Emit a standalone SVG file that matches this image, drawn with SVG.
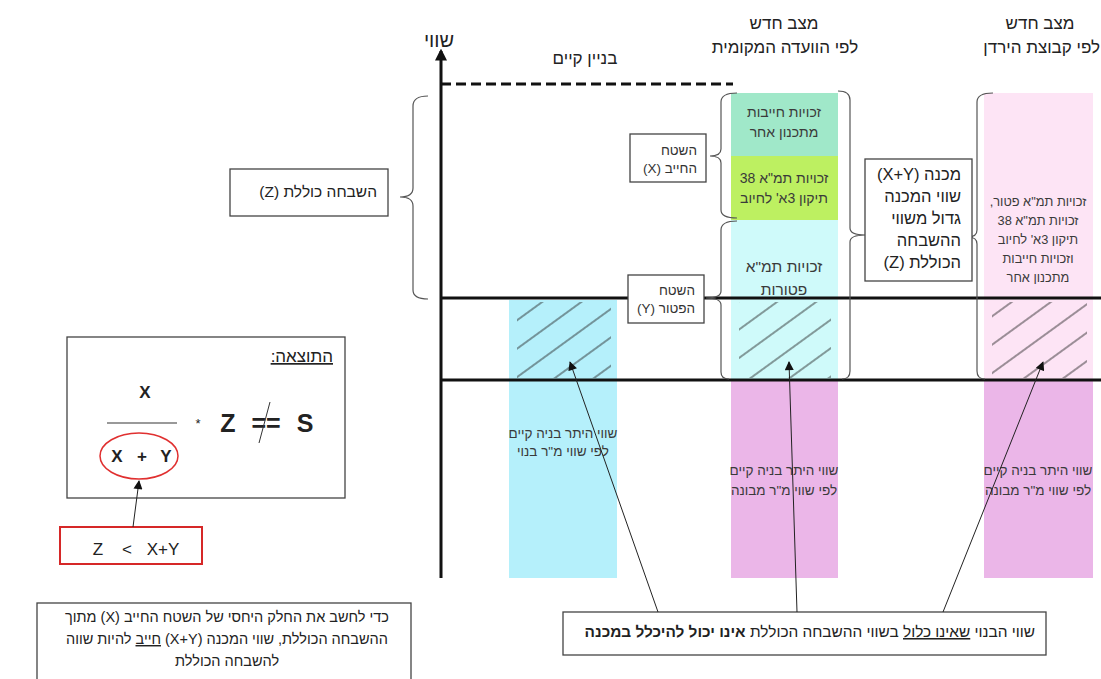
<svg xmlns="http://www.w3.org/2000/svg" width="1101" height="679" viewBox="0 0 1101 679">
  <style>
    text { font-family: "Liberation Sans", Arial, "DejaVu Sans", sans-serif; fill: #222; }
    .rtl { direction: rtl; unicode-bidi: embed; }
    .hdr { font-size: 17px; }
    .cell { font-size: 14px; fill: #3a3a3a; }
    .cellL { font-size: 15.5px; fill: #3a3a3a; }
    .small { font-size: 13.5px; fill: #3a3a3a; }
    .side { font-size: 12.8px; fill: #3a3a3a; }
    .lbl { font-size: 13.5px; fill: #333; }
    .box { fill: #fff; stroke: #444; stroke-width: 1.3; }
    .brace { fill: none; stroke: #555; stroke-width: 1.2; }
    .thick { stroke: #111; stroke-width: 3; fill: none; }
    .conn { stroke: #222; stroke-width: 1; fill: none; marker-end: url(#arr); }
    .bold { font-weight: bold; }
    .u { text-decoration: underline; }
  </style>
  <defs>
    <marker id="arr" viewBox="0 0 10 10" refX="9" refY="5" markerWidth="10" markerHeight="9" markerUnits="userSpaceOnUse" orient="auto">
      <path d="M0,0 L10,5 L0,10 z" fill="#111"/>
    </marker>
    <marker id="axisArr" viewBox="0 0 10 10" refX="8" refY="5" markerWidth="12" markerHeight="12" markerUnits="userSpaceOnUse" orient="auto">
      <path d="M0,0 L10,5 L0,10 z" fill="#111"/>
    </marker>
    <pattern id="hatch" patternUnits="userSpaceOnUse" width="23" height="23" patternTransform="rotate(-36)">
      <line x1="0" y1="11" x2="23" y2="11" stroke="#222" stroke-width="0.9"/>
    </pattern>
  </defs>

  <rect width="1101" height="679" fill="#fff"/>

  <!-- column headers -->
  <g id="headers">
    <text class="hdr rtl" x="585" y="64" text-anchor="middle">בניין קיים</text>
    <text class="hdr rtl" x="784" y="29" text-anchor="middle">מצב חדש</text>
    <text class="hdr rtl" x="785" y="53" text-anchor="middle">לפי הוועדה המקומית</text>
    <text class="hdr rtl" x="1040" y="29" text-anchor="middle">מצב חדש</text>
    <text class="hdr rtl" x="1100" y="53" text-anchor="start">לפי קבוצת הירדן</text>
  </g>

  <!-- existing building column -->
  <g id="col-existing">
    <rect x="509" y="300" width="108" height="278" fill="#b5f0fb"/>
    <rect x="517" y="302" width="94" height="76" fill="url(#hatch)"/>
    <text class="small rtl" x="563" y="438" text-anchor="middle">שווי היתר בניה קיים</text>
    <text class="small rtl" x="563" y="456" text-anchor="middle">לפי שווי מ"ר בנוי</text>
  </g>

  <!-- local committee column -->
  <g id="col-committee">
    <rect x="731" y="93" width="107" height="63" fill="#a0e8c9"/>
    <rect x="731" y="156" width="107" height="64" fill="#bdf061"/>
    <rect x="731" y="220" width="107" height="160" fill="#cffafa"/>
    <rect x="731" y="380" width="107" height="198" fill="#ebb6e8"/>
    <rect x="739" y="302" width="92" height="76" fill="url(#hatch)"/>
    <text class="cell rtl" x="784" y="117" text-anchor="middle">זכויות חייבות</text>
    <text class="cell rtl" x="784" y="137" text-anchor="middle">מתכנון אחר</text>
    <text class="cell rtl" x="784" y="183" text-anchor="middle">זכויות תמ"א 38</text>
    <text class="cell rtl" x="784" y="203" text-anchor="middle">תיקון 3א' לחיוב</text>
    <text class="cellL rtl" x="784" y="272" text-anchor="middle">זכויות תמ"א</text>
    <text class="cellL rtl" x="784" y="295" text-anchor="middle">פטורות</text>
    <text class="small rtl" x="784" y="475" text-anchor="middle">שווי היתר בניה קיים</text>
    <text class="small rtl" x="784" y="495" text-anchor="middle">לפי שווי מ"ר מבונה</text>
  </g>

  <!-- Jordan group column -->
  <g id="col-jordan">
    <rect x="984" y="93" width="109" height="287" fill="#fde4f5"/>
    <rect x="984" y="380" width="109" height="198" fill="#ebb6e8"/>
    <rect x="992" y="302" width="95" height="76" fill="url(#hatch)"/>
    <text class="side rtl" x="1038" y="206" text-anchor="middle">זכויות תמ"א פטור,</text>
    <text class="side rtl" x="1038" y="225" text-anchor="middle">זכויות תמ"א 38</text>
    <text class="side rtl" x="1038" y="244" text-anchor="middle">תיקון 3א' לחיוב</text>
    <text class="side rtl" x="1038" y="263" text-anchor="middle">וזכויות חייבות</text>
    <text class="side rtl" x="1038" y="282" text-anchor="middle">מתכנון אחר</text>
    <text class="small rtl" x="1038" y="475" text-anchor="middle">שווי היתר בניה קיים</text>
    <text class="small rtl" x="1038" y="495" text-anchor="middle">לפי שווי מ"ר מבונה</text>
  </g>

  <!-- value axis and reference lines -->
  <g id="axis">
    <line class="thick" x1="441" y1="578" x2="441" y2="51" marker-end="url(#axisArr)"/>
    <text class="rtl" x="439" y="47" font-size="20" text-anchor="middle">שווי</text>
    <line class="thick" x1="441" y1="84" x2="733" y2="84" stroke-dasharray="10 5"/>
    <line class="thick" x1="441" y1="298" x2="1101" y2="298"/>
    <line class="thick" x1="441" y1="380" x2="1101" y2="380"/>
  </g>

  <!-- braces -->
  <g id="braces">
    <path class="brace" d="M428,96 Q413,96 413,106 L413,188 Q413,197 400,197 Q413,197 413,206 L413,290 Q413,299 428,299"/>
    <path class="brace" d="M737,93 Q721,93 721,102 L721,149 Q721,156 710,156 Q721,156 721,163 L721,210 Q721,218 737,218"/>
    <path class="brace" d="M737,221 Q721,221 721,230 L721,291 Q721,298 706,298 Q721,298 721,305 L721,372 Q721,379 729,379"/>
    <path class="brace" d="M838,91 Q850,91 850,100 L850,228 Q850,235 865,235 Q850,235 850,242 L850,371 Q850,379 842,379"/>
    <path class="brace" d="M993,93 Q977,93 977,102 L977,230 Q977,237 968,237 Q977,237 977,244 L977,371 Q977,379 985,379"/>
  </g>

  <!-- label boxes -->
  <g id="total-gain">
    <rect class="box" x="230" y="169" width="158" height="47"/>
    <text class="rtl" x="377" y="197" font-size="15.5" text-anchor="start">השבחה כוללת (Z)</text>
  </g>

  <g id="liable-area">
    <rect class="box" x="630" y="134" width="76" height="48"/>
    <text class="lbl rtl" x="697" y="155" text-anchor="start">השטח</text>
    <text class="lbl rtl" x="697" y="173" text-anchor="start">החייב (X)</text>
  </g>

  <g id="exempt-area">
    <rect class="box" x="628" y="275" width="76" height="48"/>
    <text class="lbl rtl" x="695" y="295" text-anchor="start">השטח</text>
    <text class="lbl rtl" x="695" y="313" text-anchor="start">הפטור (Y)</text>
  </g>

  <g id="denominator">
    <rect class="box" x="865" y="159" width="107" height="122"/>
    <text class="rtl" x="961" y="180" font-size="16.5" text-anchor="start">מכנה (X+Y)</text>
    <text class="rtl" x="961" y="202" font-size="16.5" text-anchor="start">שווי המכנה</text>
    <text class="rtl" x="961" y="224" font-size="16.5" text-anchor="start">גדול משווי</text>
    <text class="rtl" x="961" y="246" font-size="16.5" text-anchor="start">ההשבחה</text>
    <text class="rtl" x="961" y="268" font-size="16.5" text-anchor="start">הכוללת (Z)</text>
  </g>

  <!-- result formula -->
  <g id="result">
    <rect class="box" x="67" y="337" width="278" height="161"/>
    <text class="rtl u" x="333" y="362" font-size="17" text-anchor="start">התוצאה:</text>
    <text class="bold" x="145" y="398" font-size="17" text-anchor="middle">X</text>
    <line x1="107" y1="423" x2="177" y2="423" stroke="#999" stroke-width="2"/>
    <text class="bold" x="117" y="462" font-size="17" text-anchor="middle">X</text>
    <text class="bold" x="142" y="462" font-size="17" text-anchor="middle">+</text>
    <text class="bold" x="166" y="462" font-size="17" text-anchor="middle">Y</text>
    <ellipse cx="139" cy="456" rx="39" ry="23" fill="none" stroke="#e03030" stroke-width="1.5"/>
    <text x="198" y="428" font-size="13" text-anchor="middle">*</text>
    <text class="bold" x="228" y="432" font-size="25" text-anchor="middle">Z</text>
    <text class="bold" x="266" y="432" font-size="25" text-anchor="middle">==</text>
    <line x1="270" y1="402" x2="259" y2="443" stroke="#333" stroke-width="1"/>
    <text class="bold" x="305" y="432" font-size="25" text-anchor="middle">S</text>
  </g>

  <g id="condition">
    <rect x="60" y="527" width="142" height="37" fill="#fff" stroke="#d62828" stroke-width="2"/>
    <text x="98" y="555" font-size="17" text-anchor="middle">Z</text>
    <text x="127" y="555" font-size="17" text-anchor="middle">&lt;</text>
    <text x="163" y="555" font-size="17" text-anchor="middle">X+Y</text>
  </g>

  <g id="note-left">
    <rect class="box" x="37" y="603" width="374" height="80"/>
    <text class="rtl" x="227" y="622" font-size="14.5" text-anchor="middle">כדי לחשב את החלק היחסי של השטח החייב (X) מתוך</text>
    <text class="rtl" x="227" y="644" font-size="14.5" text-anchor="middle">ההשבחה הכוללת, שווי המכנה (X+Y) <tspan class="u">חייב</tspan> להיות שווה</text>
    <text class="rtl" x="227" y="666" font-size="14.5" text-anchor="middle">להשבחה הכוללת</text>
  </g>

  <g id="note-bottom">
    <rect class="box" x="563" y="612" width="483" height="43"/>
    <text class="rtl" x="1035" y="637" font-size="15.4" text-anchor="start">שווי הבנוי <tspan class="u">שאינו כלול</tspan> בשווי ההשבחה הכוללת <tspan class="bold">אינו יכול להיכלל במכנה</tspan></text>
  </g>

  <!-- connectors -->
  <g id="connectors">
    <line class="conn" x1="658" y1="612" x2="570" y2="362"/>
    <line class="conn" x1="797" y1="612" x2="789" y2="362"/>
    <line class="conn" x1="943" y1="612" x2="1043" y2="362"/>
    <line class="conn" x1="133" y1="527" x2="139" y2="481"/>
  </g>
</svg>
